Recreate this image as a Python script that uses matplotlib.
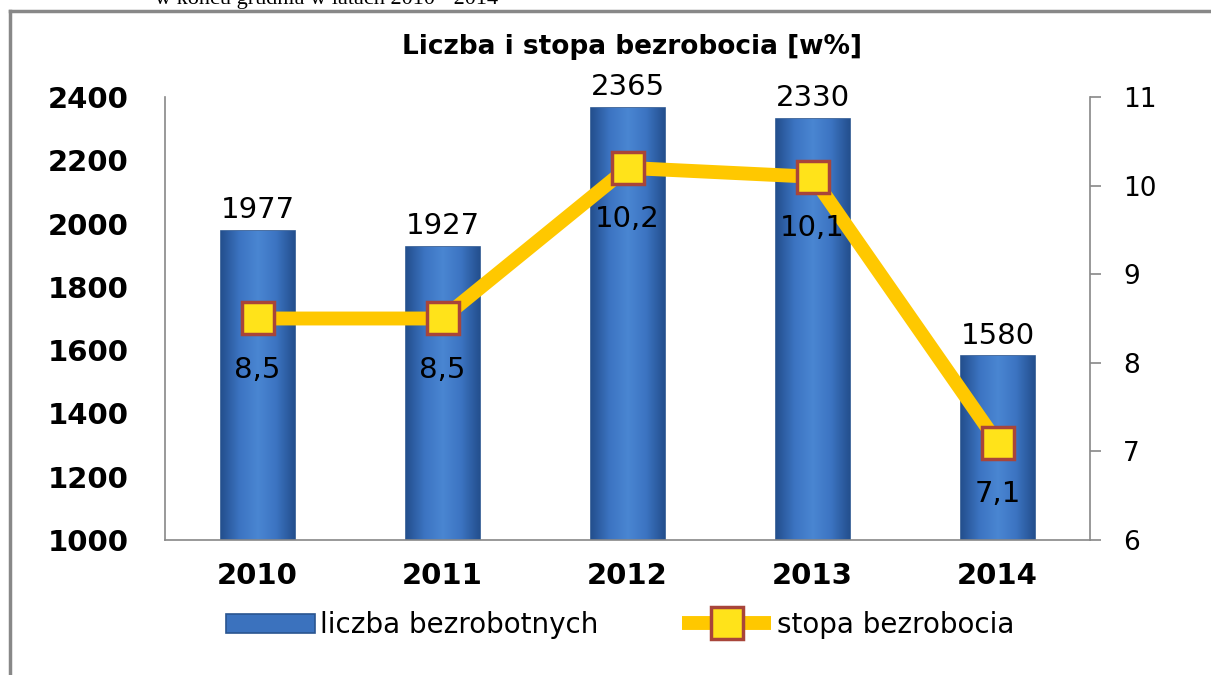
import matplotlib.pyplot as plt
import numpy as np
from matplotlib.lines import Line2D
from matplotlib.colors import LinearSegmentedColormap

# Dane
lata = ['2010', '2011', '2012', '2013', '2014']
liczba_bezrobotnych = [1977, 1927, 2365, 2330, 1580]
stopa_bezrobocia = [8.5, 8.5, 10.2, 10.1, 7.1]
etykiety_stopy = ['8,5', '8,5', '10,2', '10,1', '7,1']
tytul = 'Liczba i stopa bezrobocia [w%]'
podpis_gora = 'w końcu grudnia w latach 2010 - 2014'

szary = '#888888'
niebieski = '#3B72BE'
zolty = '#FFC800'

plt.rcParams['font.family'] = ['DejaVu Sans']

fig = plt.figure(figsize=(12.11, 6.75), dpi=100)
ax = fig.add_axes([165 / 1211, 135 / 675, 925 / 1211, 443 / 675])
ax2 = ax.twinx()

x = np.arange(len(lata))
dol, gora = 1000, 2400

# Słupki z gradientem
slupki = ax.bar(x, liczba_bezrobotnych, width=0.4, color=niebieski,
                edgecolor='#2A5590', linewidth=1.2, zorder=2,
                label='liczba bezrobotnych')
cmap = LinearSegmentedColormap.from_list(
    'b', ['#24508F', '#3C74C2', '#4A86D2', '#3C74C2', '#24508F'])
grad = np.linspace(0, 1, 64).reshape(1, -1)
for s in slupki:
    x0 = s.get_x()
    im = ax.imshow(grad, cmap=cmap, aspect='auto', zorder=2.1,
                   extent=(x0, x0 + s.get_width(), dol, s.get_height()))
    im.set_clip_path(s)

for xi, v in zip(x, liczba_bezrobotnych):
    ax.annotate(str(v), (xi, v), xytext=(0, 15), textcoords='offset points',
                ha='center', va='center', fontsize=21, zorder=5)

ax.set_xlim(-0.5, len(lata) - 0.5)
ax.set_ylim(dol, gora)
ax.set_yticks(range(dol, gora + 1, 200))
ax.set_xticks(x)
ax.set_xticklabels(lata, fontsize=21, fontweight='bold')
ax.tick_params(axis='y', length=0, pad=26, labelsize=21)
ax.tick_params(axis='x', length=0, pad=16)
for t in ax.get_yticklabels():
    t.set_fontweight('bold')

# Linia stopy bezrobocia
ax2.plot(x, stopa_bezrobocia, color=zolty, linewidth=10, solid_capstyle='butt',
         marker='s', markersize=23, markerfacecolor='#FFE31A',
         markeredgecolor='#A8453A', markeredgewidth=2.5, zorder=3,
         label='stopa bezrobocia')
for xi, v, lab in zip(x, stopa_bezrobocia, etykiety_stopy):
    ax2.annotate(lab, (xi, v), xytext=(0, -37), textcoords='offset points',
                 ha='center', va='center', fontsize=21, zorder=5)
ax2.set_ylim(6, 11)
ax2.set_yticks(range(6, 12))
ax2.tick_params(axis='y', length=8, width=1.2, color=szary, pad=16, labelsize=19)

for a in (ax, ax2):
    a.spines['top'].set_visible(False)
    for sp in ('left', 'right', 'bottom'):
        a.spines[sp].set_color(szary)
        a.spines[sp].set_linewidth(1.2)
ax.spines['right'].set_visible(False)
ax2.spines['left'].set_visible(False)
ax2.spines['bottom'].set_visible(False)
ax2.set_zorder(ax.get_zorder() + 1)
ax2.patch.set_visible(False)

fig.text(0.522, 1 - 47 / 675, tytul, ha='center', va='center',
         fontsize=19, fontweight='bold')

# Legenda
h1, l1 = ax.get_legend_handles_labels()
h2, l2 = ax2.get_legend_handles_labels()
fig.legend(h1 + h2, l1 + l2, loc='center', bbox_to_anchor=(0.512, 1 - 625 / 675),
           ncol=2, frameon=False, fontsize=20, handlelength=3.2,
           handletextpad=0.2, columnspacing=3.0)

# Ramka i ucięty tekst nad wykresem
fig.text(155 / 1211, 1 - 4 / 675, podpis_gora, ha='left', va='baseline',
         fontsize=16, family='Liberation Serif')
fig.add_artist(Line2D([10 / 1211, 1], [1 - 11 / 675] * 2, color=szary, lw=2.5,
                      transform=fig.transFigure))
fig.add_artist(Line2D([10 / 1211] * 2, [0, 1 - 11 / 675], color=szary, lw=2.5,
                      transform=fig.transFigure))

fig.savefig('out.png', dpi=100)
